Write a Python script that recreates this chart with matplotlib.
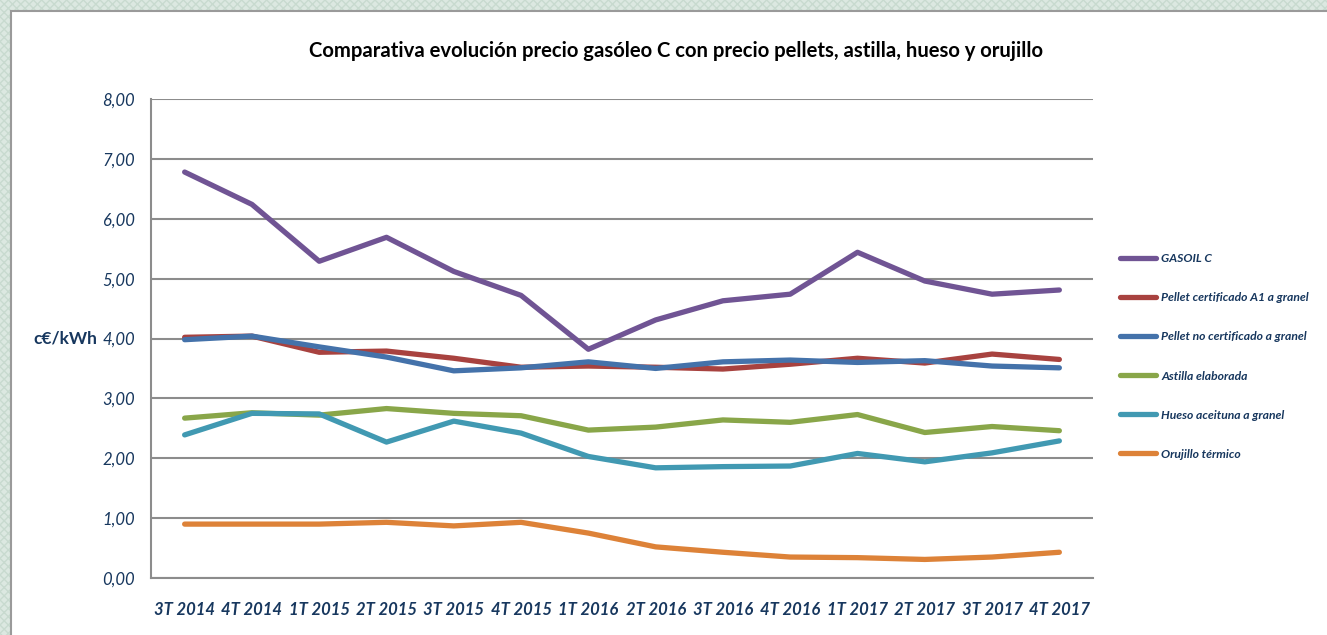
"""Comparativa evolución precio gasóleo C con pellets, astilla, hueso y orujillo."""

import matplotlib

matplotlib.use("Agg")
import matplotlib.pyplot as plt
from matplotlib.patches import Rectangle

QUARTERS = [
    "3T 2014", "4T 2014", "1T 2015", "2T 2015", "3T 2015", "4T 2015", "1T 2016",
    "2T 2016", "3T 2016", "4T 2016", "1T 2017", "2T 2017", "3T 2017", "4T 2017",
]
GASOIL = [6.78, 6.24, 5.29, 5.69, 5.12, 4.72, 3.82, 4.31, 4.63, 4.74, 5.44, 4.96, 4.74, 4.81]
PELLET_A1 = [4.02, 4.04, 3.77, 3.79, 3.67, 3.52, 3.54, 3.52, 3.49, 3.57, 3.67, 3.59, 3.74, 3.65]
PELLET_NC = [3.98, 4.04, 3.86, 3.69, 3.46, 3.51, 3.61, 3.50, 3.61, 3.64, 3.60, 3.63, 3.54, 3.51]
ASTILLA = [2.67, 2.76, 2.72, 2.83, 2.75, 2.71, 2.47, 2.52, 2.64, 2.60, 2.73, 2.43, 2.53, 2.46]
HUESO = [2.39, 2.75, 2.74, 2.27, 2.62, 2.42, 2.03, 1.84, 1.86, 1.87, 2.08, 1.94, 2.09, 2.29]
ORUJILLO = [0.90, 0.90, 0.90, 0.93, 0.87, 0.93, 0.75, 0.52, 0.43, 0.35, 0.34, 0.31, 0.35, 0.43]

SERIES = (
    ("GASOIL C", GASOIL, "#705494"),
    ("Pellet certificado A1 a granel", PELLET_A1, "#a8423f"),
    ("Pellet no certificado a granel", PELLET_NC, "#4472aa"),
    ("Astilla elaborada", ASTILLA, "#89a649"),
    ("Hueso aceituna a granel", HUESO, "#4199b2"),
    ("Orujillo térmico", ORUJILLO, "#dd8238"),
)
Y_TICKS = [0, 1, 2, 3, 4, 5, 6, 7, 8]
NAVY = "#17375e"
GRID = "#8c8c8c"

plt.rcParams["font.family"] = ["Lato", "DejaVu Sans"]

fig = plt.figure(figsize=(13.27, 6.35), dpi=100)
fig.patch.set_facecolor("#dce8e1")
fig.patches.append(
    Rectangle((0, 0), 1, 1, transform=fig.transFigure, facecolor="none",
              edgecolor="#c8dacf", hatch="xxxx", linewidth=0, zorder=-2)
)
fig.patches.append(
    Rectangle((11 / 1327, -0.05), 1.1, 0.05 + 624 / 635, transform=fig.transFigure,
              facecolor="white", edgecolor="#9a9a9a", linewidth=1.5, zorder=-1)
)

ax = fig.add_axes([151 / 1327, 57 / 635, 942 / 1327, 479 / 635])
ax.set_facecolor("none")
x = range(len(QUARTERS))
for label, values, color in SERIES:
    ax.plot(x, values, color=color, linewidth=3.8, solid_capstyle="round",
            solid_joinstyle="round", label=label)

ax.set_xlim(-0.5, len(QUARTERS) - 0.5)
ax.set_ylim(0, 8)
ax.set_yticks(Y_TICKS, [f"{v:.2f}".replace(".", ",") for v in Y_TICKS])
ax.set_xticks(list(x), QUARTERS)
ax.grid(axis="y", color=GRID, linewidth=1.5)
ax.set_axisbelow(True)
for side in ("top", "right"):
    ax.spines[side].set_visible(False)
for side in ("left", "bottom"):
    ax.spines[side].set_color(GRID)
    ax.spines[side].set_linewidth(1.5)
ax.tick_params(axis="both", length=0, colors=NAVY)
ax.tick_params(axis="y", pad=11.5, labelsize=12)
ax.tick_params(axis="x", pad=17, labelsize=12)
for tick in ax.get_yticklabels():
    tick.set_fontstyle("italic")
for tick in ax.get_xticklabels():
    tick.set_fontstyle("italic")
    tick.set_fontweight("bold")

fig.text(65 / 1327, 1 - 339 / 635, "c€/kWh", ha="center", va="center",
         fontsize=12.5, fontweight="bold", color=NAVY)
fig.text(676 / 1327, 1 - 51 / 635,
         "Comparativa evolución precio gasóleo C con precio pellets, astilla, hueso y orujillo",
         ha="center", va="center", fontsize=14.6, fontweight="bold", color="black")

legend = ax.legend(
    loc="center left", bbox_to_anchor=(1120 / 1327, 1 - 356.5 / 635),
    bbox_transform=fig.transFigure, frameon=False, borderpad=0, borderaxespad=0,
    handlelength=3.0, handletextpad=0.42, labelspacing=2.32,
    prop={"size": 8.7, "weight": "bold", "style": "italic"},
)
for text in legend.get_texts():
    text.set_color(NAVY)

fig.savefig("out.png", dpi=100)
